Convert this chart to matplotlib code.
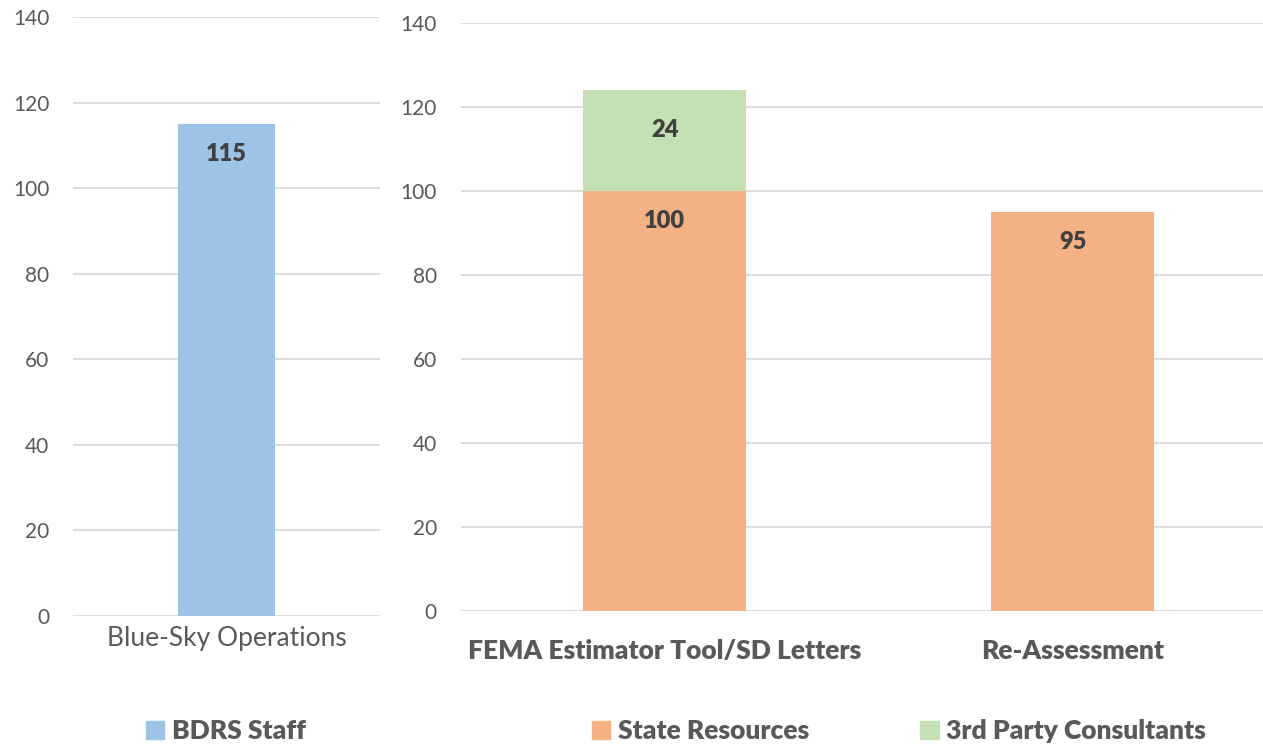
import matplotlib.pyplot as plt
from matplotlib.patches import Patch

plt.rcParams['font.family'] = ['Lato', 'DejaVu Sans']

# data
left_cats = ["Blue-Sky Operations"]
bdrs_staff = [115]

right_cats = ["FEMA Estimator Tool/SD Letters", "Re-Assessment"]
state_resources = [100, 95]
third_party = [24, 0]

yticks = [0, 20, 40, 60, 80, 100, 120, 140]

c_blue = "#9dc3e6"
c_orange = "#f4b183"
c_green = "#c5e0b4"
c_text = "#595959"
c_label = "#404040"
c_grid = "#d9d9d9"

W, H = 1263, 744
fig = plt.figure(figsize=(W / 100, H / 100), dpi=100)


def px_axes(x0, x1, y_top, y_bot):
    return fig.add_axes([x0 / W, 1 - y_bot / H, (x1 - x0) / W, (y_bot - y_top) / H])


def style(ax):
    ax.set_ylim(0, 140)
    ax.set_yticks(yticks)
    for s in ax.spines.values():
        s.set_visible(False)
    ax.grid(axis="y", color=c_grid, lw=1.3)
    ax.set_axisbelow(True)
    ax.tick_params(length=0, colors=c_text, labelsize=15)
    ax.tick_params(axis="y", pad=17)


def label(ax, x, top, val, off=-30):
    ax.annotate(str(val), (x, top), xytext=(0, off), textcoords="offset pixels",
                ha="center", va="center", fontsize=17, fontweight="heavy", color=c_label)


# left panel
ax1 = px_axes(73, 380, 17, 616)
style(ax1)
ax1.set_xlim(-0.5, 0.5)
ax1.bar(range(len(left_cats)), bdrs_staff, width=0.313, color=c_blue)
ax1.set_xticks(range(len(left_cats)))
ax1.set_xticklabels(left_cats, fontsize=19)
ax1.tick_params(axis="x", pad=7)
for i, v in enumerate(bdrs_staff):
    label(ax1, i, v, v)

# right panel
ax2 = px_axes(460.5, 1276.5, 23, 611)
style(ax2)
ax2.set_xlim(-0.5, 1.5)
xs = range(len(right_cats))
ax2.bar(xs, state_resources, width=0.4, color=c_orange)
ax2.bar(xs, third_party, width=0.4, bottom=state_resources, color=c_green)
ax2.set_xticks(list(xs))
ax2.set_xticklabels(right_cats, fontsize=19, fontweight="heavy")
ax2.tick_params(axis="x", pad=20)
for i in xs:
    label(ax2, i, state_resources[i], state_resources[i])
    if third_party[i]:
        label(ax2, i, state_resources[i] + third_party[i], third_party[i], off=-40)

leg_kw = dict(frameon=False, handlelength=0.7, handleheight=0.7, handletextpad=0.3,
              prop={"size": 19, "weight": "heavy"}, labelcolor=c_text, loc="center")
fig.legend(handles=[Patch(color=c_blue, label="BDRS Staff")],
           bbox_to_anchor=(226 / W, 1 - 731 / H), **leg_kw)
fig.legend(handles=[Patch(color=c_orange, label="State Resources"),
                    Patch(color=c_green, label="3rd Party Consultants")],
           bbox_to_anchor=(899 / W, 1 - 731 / H), ncol=2, columnspacing=4.2, **leg_kw)

fig.savefig("out.png", dpi=100)
